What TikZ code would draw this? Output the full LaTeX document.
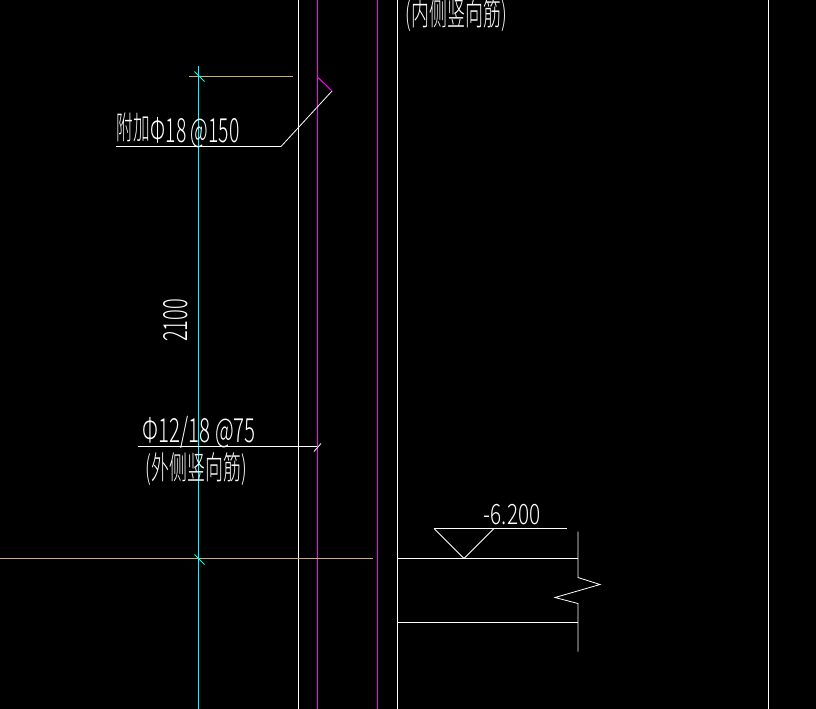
\documentclass[tikz,border=0pt]{standalone}
\usepackage{fontspec}
\setmainfont{Noto Sans CJK SC Light}
\definecolor{mycyan}{RGB}{0,255,255}
\definecolor{mytan}{RGB}{205,175,105}
\definecolor{mymagenta}{RGB}{255,0,255}
\usetikzlibrary{calc,positioning}

\begin{document}
\begin{tikzpicture}[
  x=0.75pt,
  y=-0.75pt,
  line width=0.75pt,
  wall/.style={draw=white},
  rebar/.style={draw=mymagenta},
  axisline/.style={draw=mycyan},
  dimline/.style={draw=mytan},
  leader/.style={draw=white,line width=0.6pt},
  cadtext/.style={
    text=white,
    inner sep=0pt,
    xscale=#1,
    font=\fontsize{25pt}{25pt}\selectfont
  },
  cadcjk/.style={
    text=white,
    inner sep=0pt,
    xscale=#1,
    font=\fontsize{24pt}{24pt}\selectfont
  },
  cadsmall/.style={
    text=white,
    inner sep=0pt,
    xscale=#1,
    font=\fontsize{21pt}{21pt}\selectfont
  }
]

\fill[black] (-0.5,-0.5) rectangle (815.5,708.5);
\useasboundingbox (-0.5,-0.5) rectangle (815.5,708.5);

% vertical wall lines
\foreach \Posx/\Kind in {298/wall,317/rebar,377/rebar,397/wall,768/wall}
  \draw[\Kind] (\Posx,-0.5) -- (\Posx,708.5);

% axis and dimension lines
\coordinate (axistop) at (198,66);
\coordinate (axisbot) at (198,708.5);
\coordinate (dimtopa) at (188.5,76);
\coordinate (dimtopb) at (292.5,76);
\coordinate (dimbota) at (-0.5,558);
\coordinate (dimbotb) at (372.5,558);
\draw[dimline] (dimtopa) -- (dimtopb);
\draw[dimline] (dimbota) -- (dimbotb);
\draw[axisline] (axistop) -- (axisbot);
\foreach \Posy in {76,559}
  \draw[axisline,line width=0.6pt] (194,\Posy-5) -- (204,\Posy+5);

% leader of the added bars
\coordinate (lead0) at (115.5,146);
\coordinate (lead1) at (280.5,146);
\coordinate (lead2) at (331.5,90.5);
\coordinate (lead3) at (317.5,77);
\draw[wall] (lead0) -- (lead1);
\draw[leader] (lead1) -- (lead2);
\draw[rebar] (lead2) -- (lead3);
\node[cadcjk=0.52,anchor=base west] (addtxt) at (116,139) {附加};
\node[cadtext=0.58,anchor=base west] (addbar) at (150,142) {Φ18 @150};

% dimension text
\node[rotate=90,cadtext=0.6] (dimtxt) at (175,320) {2100};

% leader of the outer bars
\coordinate (outa) at (137.5,446);
\coordinate (outb) at (316.5,446);
\coordinate (ticka) at (313.5,451);
\coordinate (tickb) at (320.5,443);
\draw[wall] (outa) -- (outb);
\draw[leader] (ticka) -- (tickb);
\node[cadtext=0.615,anchor=base west] (outbar) at (142,442) {Φ12/18 @75};
\node[cadcjk=0.56,anchor=base west] (outtxt) at (145,479) {(外侧竖向筋)};

% text cut by the top edge
\node[cadcjk=0.56,anchor=base west] (intxt) at (405,25) {(内侧竖向筋)};

% level mark
\coordinate (lvla) at (433.5,528);
\coordinate (lvlb) at (493.5,528);
\coordinate (lvlc) at (566.5,528);
\coordinate (lvld) at (463.5,558);
\draw[wall] (lvla) -- (lvlc);
\draw[leader] (lvla) -- (lvld) -- (lvlb);
\node[cadsmall=0.74,anchor=base west] (lvltxt) at (483,524) {-6.200};

% slab with break line
\coordinate (slaba) at (397,558);
\coordinate (slabb) at (577.5,558);
\coordinate (slabc) at (397,622);
\coordinate (slabd) at (577.5,622);
\draw[wall] (slaba) -- (slabb);
\draw[wall] (slabc) -- (slabd);
\draw[leader] (577.5,531) -- (577.5,577) -- (599.5,584) -- (554.5,597) -- (577.5,603) -- (577.5,651);

\end{tikzpicture}
\end{document}
